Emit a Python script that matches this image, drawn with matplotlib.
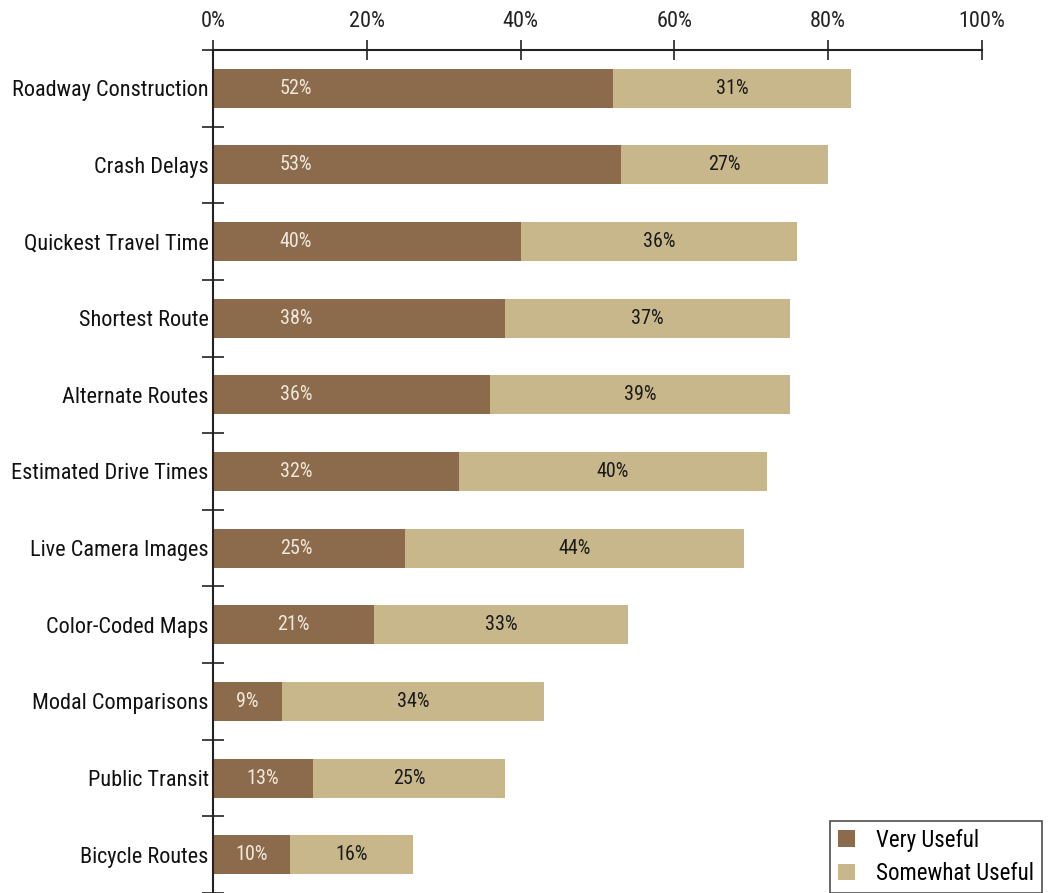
import matplotlib
matplotlib.use("Agg")
import matplotlib.pyplot as plt
import numpy as np
from matplotlib.patches import Patch

plt.rcParams['font.family'] = ['Roboto Condensed', 'Pragati Narrow', 'DejaVu Sans']

categories = [
    "Roadway Construction", "Crash Delays", "Quickest Travel Time",
    "Shortest Route", "Alternate Routes", "Estimated Drive Times",
    "Live Camera Images", "Color-Coded Maps", "Modal Comparisons",
    "Public Transit", "Bicycle Routes",
]
very_useful = [52, 53, 40, 38, 36, 32, 25, 21, 9, 13, 10]
somewhat_useful = [31, 27, 36, 37, 39, 40, 44, 33, 34, 25, 16]
x_ticks = [0, 20, 40, 60, 80, 100]
x_tick_labels = ["0%", "20%", "40%", "60%", "80%", "100%"]

dark = "#8B6B4B"
light = "#C8B78B"

fig = plt.figure(figsize=(10.48, 8.93), dpi=100)
ax = fig.add_axes([213 / 1048, 0.0, (982 - 213) / 1048, 1 - 50 / 893])

y = np.arange(len(categories))
h = 0.51
ax.barh(y, very_useful, height=h, color=dark, label="Very Useful")
ax.barh(y, somewhat_useful, left=very_useful, height=h, color=light,
        label="Somewhat Useful")

# inner labels: the dark-segment label sits near the axis for long segments
label_cap = 10.8
for yi, v, s in zip(y, very_useful, somewhat_useful):
    ax.text(min(v / 2, label_cap), yi, f"{v}%", ha="center", va="center",
            color="#F0E8DC", fontsize=14.5)
    ax.text(v + s / 2, yi, f"{s}%", ha="center", va="center",
            color="#1A1A1A", fontsize=14.5)

ax.set_xlim(0, 100)
ax.set_ylim(len(categories) - 0.5, -0.5)

# x axis on top with crossing ticks
ax.xaxis.tick_top()
ax.set_xticks(x_ticks)
ax.set_xticklabels(x_tick_labels, fontsize=16, color="#222222")
ax.tick_params(axis="x", direction="inout", length=14, width=1.2, pad=6,
               color="#222222")

# y axis: labels at category centres, crossing ticks at boundaries
ax.set_yticks(y)
ax.set_yticklabels(categories, fontsize=16, color="#111111")
ax.tick_params(axis="y", which="major", length=0, pad=3)
ax.set_yticks(np.arange(-0.5, len(categories) - 0.4, 1.0), minor=True)
ax.tick_params(axis="y", which="minor", direction="inout", length=16,
               width=1.2, color="#222222")

for side in ("right", "bottom"):
    ax.spines[side].set_visible(False)
ax.spines["top"].set_linewidth(1.5)
ax.spines["left"].set_linewidth(1.5)
ax.spines["top"].set_color("#222222")
ax.spines["left"].set_color("#222222")

handles = [Patch(facecolor=dark, edgecolor="none", label="Very Useful"),
           Patch(facecolor=light, edgecolor="none", label="Somewhat Useful")]
leg = fig.legend(handles=handles, loc="lower right",
                 bbox_to_anchor=(1042 / 1048, 0.0), prop={"size": 16.5},
                 frameon=True, fancybox=False, edgecolor="#222222",
                 handlelength=0.75, handleheight=0.75, handletextpad=0.9,
                 borderpad=0.35, labelspacing=0.45, borderaxespad=0)
leg.get_frame().set_linewidth(1.2)

fig.savefig("out.png", dpi=100)
